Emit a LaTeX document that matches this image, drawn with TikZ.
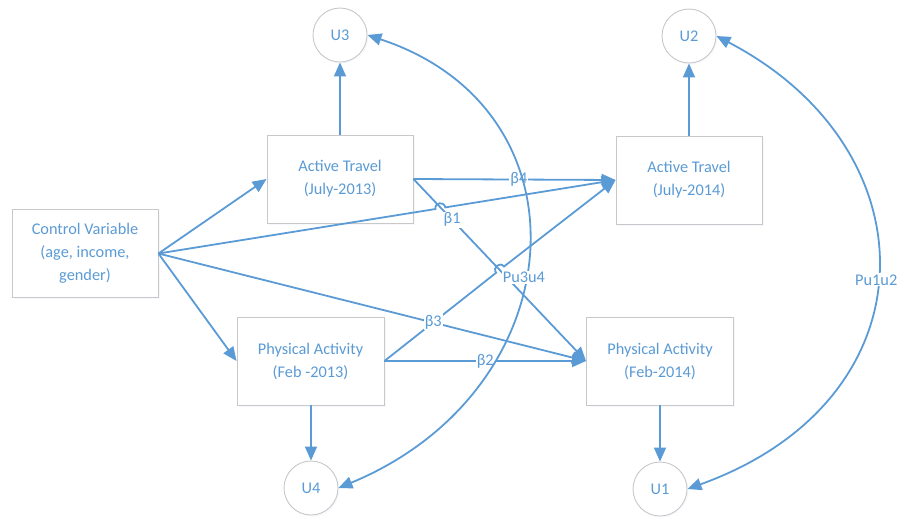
\documentclass[tikz,border=0pt]{standalone}
\usepackage{fontspec}
\setmainfont{Carlito}
\usetikzlibrary{arrows.meta,calc,shadows}
\definecolor{lblue}{RGB}{91,155,213}
\definecolor{lgray}{RGB}{200,200,200}
\tikzset{
  softshadow/.style={drop shadow={shadow xshift=1.5pt, shadow yshift=-1.5pt, opacity=0.06, fill=lblue}},
  box/.style={draw=lgray, line width=0.9pt, fill=white, minimum width=146pt, minimum height=88pt,
    align=center, text=lblue, inner sep=0pt, font=\fontsize{16.3}{23}\selectfont, softshadow},
  errnode/.style={circle, draw=lgray, line width=0.9pt, fill=white, minimum size=54pt, inner sep=0pt,
    text=lblue, font=\fontsize{16.3}{19}\selectfont, softshadow},
  conn/.style={draw=lblue, line width=1.8pt, -{Triangle[length=14pt,width=12pt]}},
  curveconn/.style={draw=lblue, line width=1.8pt, {Triangle[length=14pt,width=12pt]}-{Triangle[length=14pt,width=12pt]}},
  lab/.style={fill=white, inner sep=1pt, text=lblue, font=\fontsize{16.3}{19}\selectfont},
}
\begin{document}
\begin{tikzpicture}[x=1pt,y=-1pt]
\useasboundingbox (0,0) rectangle (905,523);

% boxes
\node[box] (ctrl) at (85,253.5) {Control Variable\\(age, income,\\gender)};
\node[box] (at13) at (340,179) {Active Travel\\(July-2013)};
\node[box] (at14) at (689,180) {Active Travel\\(July-2014)};
\node[box, minimum width=147pt] (pa13) at (310.5,361) {Physical Activity\\(Feb -2013)};
\node[box, minimum width=147pt] (pa14) at (660,361) {Physical Activity\\(Feb-2014)};

% error terms
\node[errnode] (u3) at (340,35) {U3};
\node[errnode] (u2) at (689,36) {U2};
\node[errnode] (u4) at (311,488) {U4};
\node[errnode] (u1) at (660,489) {U1};

% hop coordinates
\coordinate (h1a) at (435.5,209.0);
\coordinate (h1b) at (445.3,207.4);
\coordinate (h2a) at (496.2,272.7);
\coordinate (h2b) at (504.0,266.5);

% box to error
\draw[conn] (at13.north) -- (u3.south);
\draw[conn] (at14.north) -- (u2.south);
\draw[conn] (pa13.south -| u4) -- (u4.north);
\draw[conn] (pa14.south) -- (u1.north);

% control paths
\draw[conn] (ctrl.east) -- (at13.west);
\draw[conn] (ctrl.east) -- (pa13.west);
\draw[conn] (ctrl.east) -- (h1a) .. controls (434.4,202.4) and (444.2,200.8) .. (h1b) -- (at14.west);
\draw[conn] (ctrl.east) -- (pa14.west);

% structural paths
\draw[conn] (at13.east) -- node[lab, pos=0.522] {β4} (at14.west);
\draw[conn] (at13.east) -- node[lab, pos=0.224] {β1} (pa14.west);
\draw[conn] (pa13.east) -- node[lab, pos=0.437] {β3} (h2a) .. controls (492.1,267.5) and (499.9,261.3) .. (h2b) -- (at14.west);
\draw[conn] (pa13.east) -- node[lab, pos=0.5] {β2} (pa14.west);

% covariances
\draw[curveconn] (u4.east) .. controls (575,390) and (595,110) .. node[lab, pos=0.455] {Pu3u4} (u3.east);
\draw[curveconn] (u1.east) .. controls (935,400) and (935,150) .. node[lab, pos=0.485] {Pu1u2} (u2.east);
\end{tikzpicture}
\end{document}
